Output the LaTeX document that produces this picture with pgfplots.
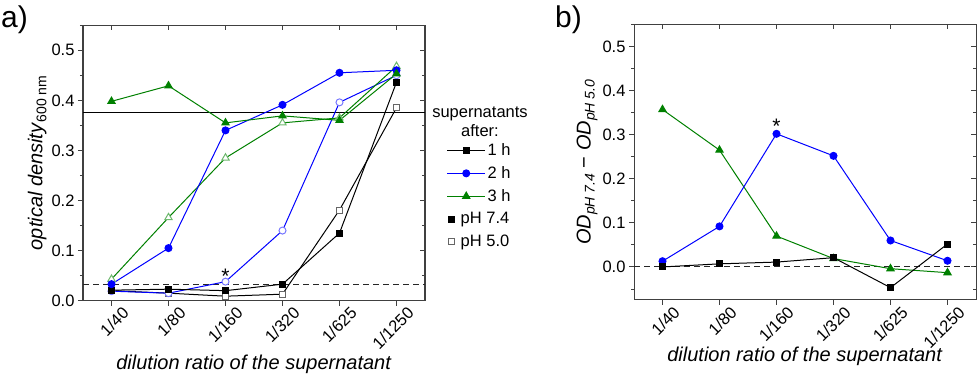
\documentclass[border=0pt]{standalone}
\usepackage{fontspec}
\setmainfont{Liberation Sans}
\setsansfont{Liberation Sans}
\usepackage{pgfplots}
\pgfplotsset{compat=1.18}

\definecolor{ogreen}{RGB}{0,128,0}
\definecolor{oblue}{RGB}{0,0,255}
\definecolor{lgreen}{RGB}{110,185,110}
\definecolor{lblue}{RGB}{120,120,255}
\newcommand\tickfont{\fontsize{16.5}{19}\selectfont}
\newcommand\labfont{\fontsize{20}{24}\selectfont}
\newcommand\subfont{\fontsize{14}{16}\selectfont}

\pgfplotsset{
  panel/.style={
    scale only axis, width=342pt, height=275.5pt,
    xmin=-0.5, xmax=5.5,
    xtick={0,...,5},
    xticklabels={1/40,1/80,1/160,1/320,1/625,1/1250},
    axis line style={black!75, line width=1pt},
    every tick/.style={black!75, line width=0.9pt},
    major tick length=5pt, minor tick length=3pt,
    ticklabel style={font=\tickfont},
    /pgf/number format/assume math mode=true,
    y tick label style={/pgf/number format/fixed, /pgf/number format/fixed zerofill, /pgf/number format/precision=1},
    x tick label style={xshift=10pt, yshift=0pt, rotate=45, anchor=north east, inner sep=0pt},
    label style={font=\labfont},
    clip=false,
  },
  front/.style={tick align=outside, xtick pos=left, ytick pos=left},
  mirror/.style={tick align=inside, xtick pos=right, ytick pos=right, xticklabels={}, yticklabels={}},
  leg/.style={legend image code/.code={\draw[##1, mark repeat=2, mark phase=2] plot coordinates {(0pt,0pt) (19pt,0pt) (38pt,0pt)};}},
  phleg/.style={legend image code/.code={\draw[##1] plot coordinates {(4pt,0pt)};}},
}

\begin{document}
\begin{tikzpicture}
\useasboundingbox (0pt,0pt) rectangle (980pt,379pt);

% ---- panel a
\begin{axis}[panel, mirror, at={(83pt,78.3pt)}, anchor=south west,
  ymin=0, ymax=0.55, ytick={0,0.1,...,0.5}, minor ytick={0.05,0.15,...,0.55}]
\end{axis}
\begin{axis}[panel, front, at={(83pt,78.3pt)}, anchor=south west,
  ymin=0, ymax=0.55, ytick={0,0.1,...,0.5}, minor ytick={0.05,0.15,...,0.55},
  xlabel={\textit{dilution ratio of the supernatant}},
  xlabel style={at={(axis description cs:0.5,0)}, anchor=base, yshift=-69pt},
  ylabel={\textit{optical density}\raisebox{-4pt}{\subfont 600 nm}},
  ylabel style={at={(axis description cs:-0.134,0.5)}, anchor=center, rotate=0},
  leg,
  legend style={at={(1.063,0.578)}, anchor=north west, draw=none, fill=none,
    font=\tickfont, row sep=5.5pt, inner sep=0pt},
  legend cell align=left,
]
\addplot[black, line width=1pt, forget plot] coordinates {(-0.5,0.375) (5.5,0.375)};
\addplot[black!85, line width=0.9pt, dash pattern=on 6pt off 4pt, forget plot] coordinates {(-0.5,0.033) (5.5,0.033)};

% 1 h, pH 5.0
\addplot[black, line width=1pt, mark=square*, mark size=3pt, mark options={draw=black!60, fill=white}, forget plot]
  coordinates {(0,0.020) (1,0.015) (2,0.009) (3,0.013) (4,0.181) (5,0.385)};
% 2 h, pH 5.0
\addplot[oblue, line width=1pt, mark=*, mark size=3.5pt, mark options={draw=lblue, fill=white}, forget plot]
  coordinates {(0,0.019) (1,0.015) (2,0.038) (3,0.140) (4,0.396) (5,0.450)};
% 3 h, pH 5.0
\addplot[ogreen, line width=1pt, mark=triangle*, mark size=4.2pt, mark options={draw=lgreen, fill=white}, forget plot]
  coordinates {(0,0.043) (1,0.166) (2,0.285) (3,0.355) (4,0.365) (5,0.468)};
% 1 h, pH 7.4
\addplot[black, line width=1pt, mark=square*, mark size=3pt, forget plot]
  coordinates {(0,0.021) (1,0.023) (2,0.020) (3,0.033) (4,0.135) (5,0.436)};
% 2 h, pH 7.4
\addplot[oblue, line width=1pt, mark=*, mark size=3.5pt, forget plot]
  coordinates {(0,0.033) (1,0.105) (2,0.340) (3,0.391) (4,0.455) (5,0.460)};
% 3 h, pH 7.4
\addplot[ogreen, line width=1pt, mark=triangle*, mark size=4.2pt, forget plot]
  coordinates {(0,0.398) (1,0.429) (2,0.355) (3,0.369) (4,0.360) (5,0.453)};

\node[font=\fontsize{21}{21}\selectfont] at (axis cs:2,0.049) {*};

\addlegendimage{black, line width=1pt, mark=square*, mark size=3pt}
\addlegendentry{1 h}
\addlegendimage{oblue, line width=1pt, mark=*, mark size=3.5pt}
\addlegendentry{2 h}
\addlegendimage{ogreen, line width=1pt, mark=triangle*, mark size=4.2pt}
\addlegendentry{3 h}
\addlegendimage{phleg, only marks, black, mark=square*, mark size=3pt}
\addlegendentry{\hspace{-27pt}pH 7.4}
\addlegendimage{phleg, only marks, mark=square*, mark size=3pt, mark options={draw=black!60, fill=white}}
\addlegendentry{\hspace{-27pt}pH 5.0}
\end{axis}

\node[font=\tickfont, align=center] at (480pt,257pt) {supernatants\\after:};
\node[font=\fontsize{30}{30}\selectfont, anchor=north west, inner sep=0pt] at (1pt,373pt) {a)};
\node[font=\fontsize{30}{30}\selectfont, anchor=north west, inner sep=0pt] at (555pt,373pt) {b)};

% ---- panel b
\begin{axis}[panel, mirror, at={(634pt,79pt)}, anchor=south west,
  ymin=-0.075, ymax=0.55, ytick={0,0.1,...,0.5}, minor ytick={-0.05,0.05,0.15,0.25,0.35,0.45,0.55}]
\end{axis}
\begin{axis}[panel, front, at={(634pt,79pt)}, anchor=south west,
  ymin=-0.075, ymax=0.55, ytick={0,0.1,...,0.5}, minor ytick={-0.05,0.05,0.15,0.25,0.35,0.45,0.55},
  xlabel={\textit{dilution ratio of the supernatant}},
  xlabel style={at={(axis description cs:0.5,0)}, anchor=base, yshift=-62pt},
  ylabel={\textit{OD}\raisebox{-4pt}{\subfont\itshape pH 7.4} − \textit{OD}\raisebox{-4pt}{\subfont\itshape pH 5.0}},
  ylabel style={at={(axis description cs:-0.137,0.5)}, anchor=center, rotate=0},
]
\addplot[black!85, line width=0.9pt, dash pattern=on 6pt off 4pt] coordinates {(-0.5,0) (5.5,0)};
% 3 h
\addplot[ogreen, line width=1pt, mark=triangle*, mark size=4.2pt]
  coordinates {(0,0.357) (1,0.265) (2,0.070) (3,0.019) (4,-0.004) (5,-0.013)};
% 2 h
\addplot[oblue, line width=1pt, mark=*, mark size=3.5pt]
  coordinates {(0,0.013) (1,0.092) (2,0.302) (3,0.252) (4,0.060) (5,0.014)};
% 1 h
\addplot[black, line width=1pt, mark=square*, mark size=3pt]
  coordinates {(0,0.000) (1,0.007) (2,0.011) (3,0.021) (4,-0.047) (5,0.052)};
\node[font=\fontsize{21}{21}\selectfont] at (axis cs:2,0.318) {*};
\end{axis}
\end{tikzpicture}
\end{document}
